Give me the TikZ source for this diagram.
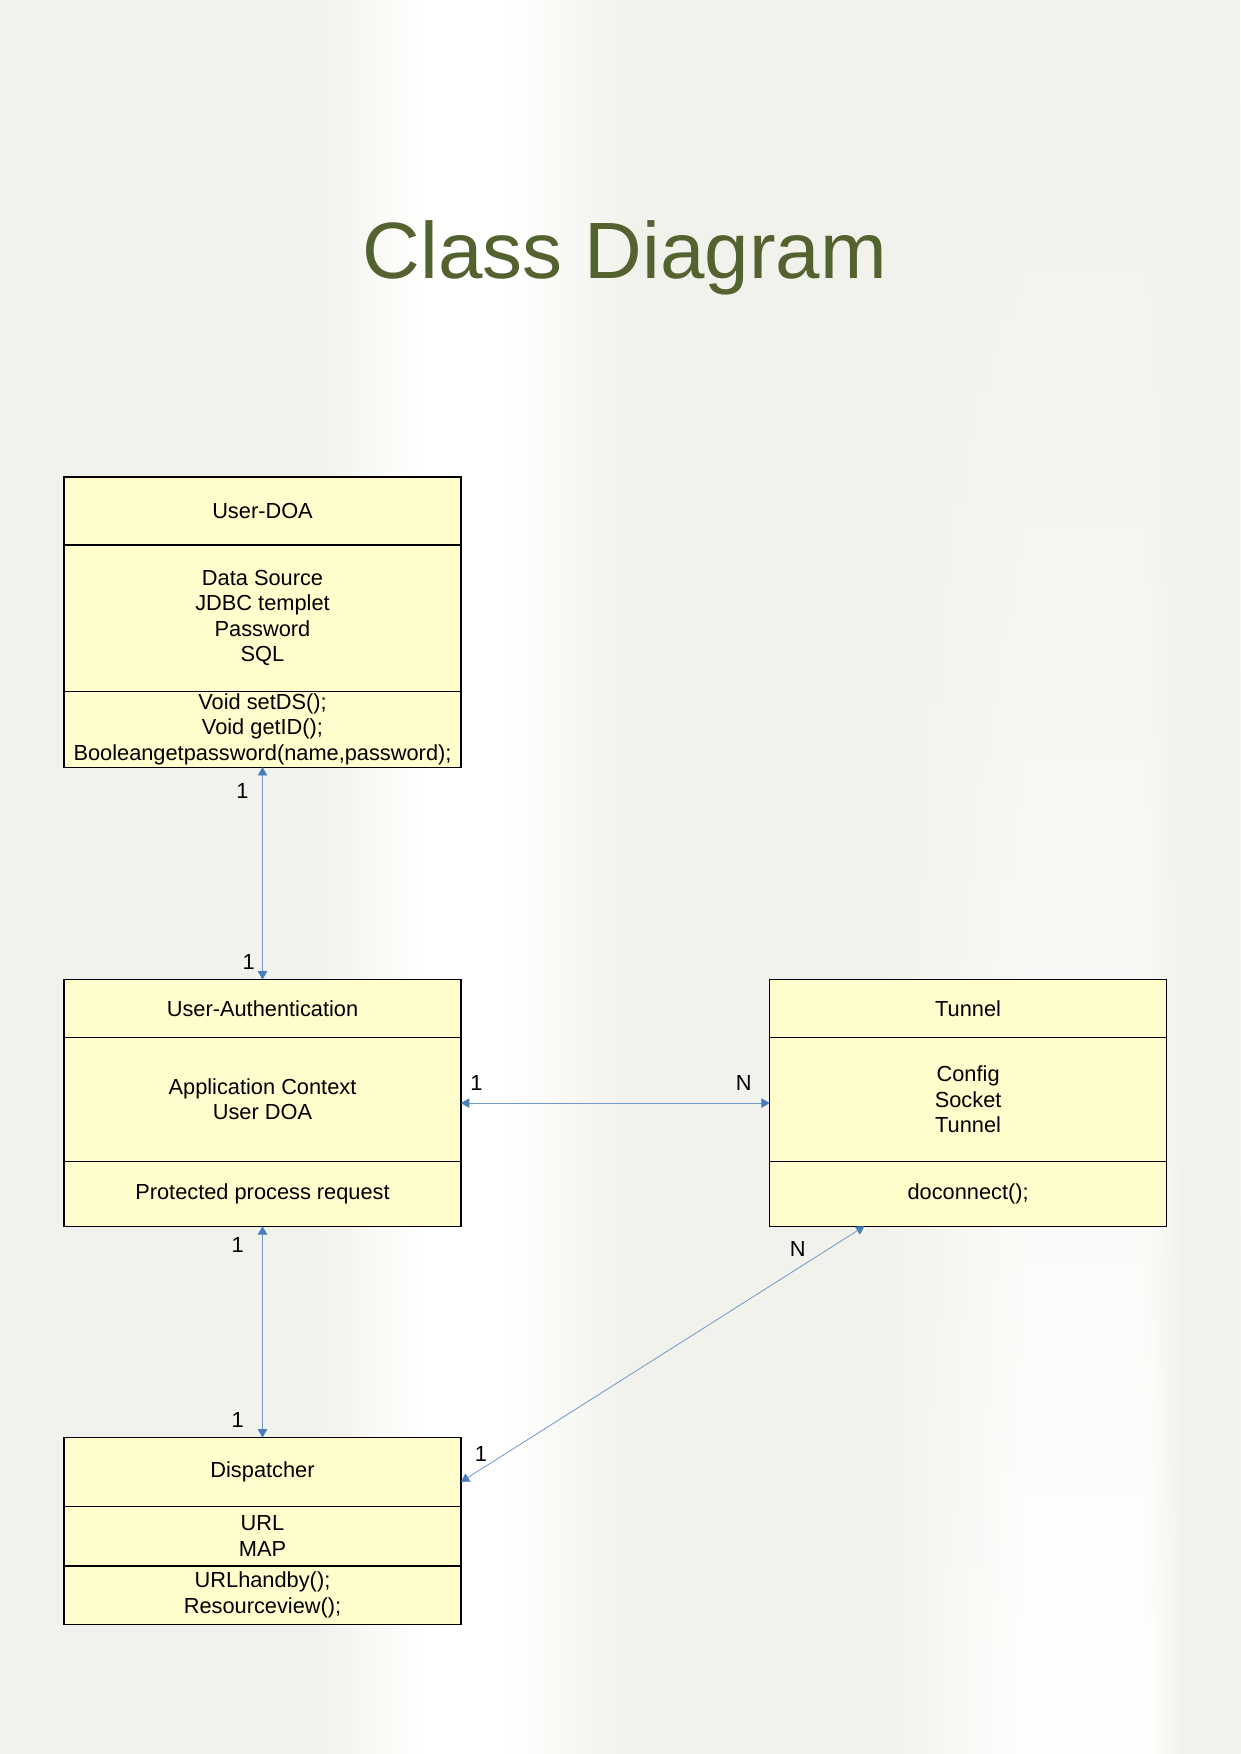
\documentclass[tikz,border=0pt]{standalone}
\usepackage{fontspec}
\setmainfont{Liberation Sans}
\usepackage{tikz}
\usetikzlibrary{arrows.meta}
\usetikzlibrary{positioning}
\usetikzlibrary{fadings}

\definecolor{bggray}{HTML}{F1F2EB}
\definecolor{boxfill}{HTML}{FFFDCB}
\definecolor{linkblue}{HTML}{7399CB}
\definecolor{tipblue}{HTML}{4A7EBB}
\definecolor{titlegreen}{HTML}{546230}

\pgfdeclarehorizontalshading{pagebg}{100bp}{color(0bp)=(bggray); color(25bp)=(bggray); color(37.7bp)=(bggray);
  color(42.2bp)=(white); color(45.4bp)=(white); color(50.5bp)=(bggray); color(100bp)=(bggray)}
\pgfdeclarehorizontalshading{rightbg}{100bp}{color(0bp)=(bggray); color(25bp)=(bggray);
  color(46.3bp)=(white); color(62.4bp)=(white); color(67.7bp)=(bggray); color(100bp)=(bggray)}
\tikzfading[name=fade up, top color=transparent!100, bottom color=transparent!0]

\tikzset{
  classpart/.style={draw=black, line width=0.6pt, fill=boxfill, minimum width=6.72cm,
    inner sep=0pt, outer sep=0pt, align=center, font=\fontsize{10.5}{12.3}\selectfont},
  link/.style={linkblue, line width=0.4pt,
    {Triangle[width=4.5pt,length=4pt,color=tipblue]}-{Triangle[width=4.5pt,length=4pt,color=tipblue]}},
  mult/.style={text=black, font=\fontsize{10.5}{12.3}\selectfont, inner sep=1pt}
}

\begin{document}
\begin{tikzpicture}
    \useasboundingbox (0cm,0cm) rectangle (21cm,-29.7cm);
    \shade[shading=pagebg] (0cm,0cm) rectangle (21cm,-29.7cm);  %Hintergrund
    \shade[shading=rightbg, path fading=fade up] (14.73cm,0cm) rectangle (21cm,-29.7cm);  %heller Streifen rechts unten

    \node[text=titlegreen, font=\fontsize{38.5}{44}\selectfont, anchor=base] (title) at (10.58cm,-4.72cm) {Class Diagram};

    % User-DOA
    \node[classpart, minimum height=1.152cm, anchor=north] (doaName) at (4.445cm,-8.078cm) {User-DOA};
    \node[classpart, minimum height=2.473cm, below=0pt of doaName] (doaAttr) {Data Source\\JDBC templet\\Password\\SQL};
    \node[classpart, minimum height=1.287cm, below=0pt of doaAttr] (doaOps) {Void setDS();\\Void getID();\\Booleangetpassword(name,password);};

    % User-Authentication
    \node[classpart, minimum height=0.977cm, anchor=north] (authName) at (4.445cm,-16.585cm) {User-Authentication};
    \node[classpart, minimum height=2.105cm, below=0pt of authName] (authAttr) {Application Context\\User DOA};
    \node[classpart, minimum height=1.096cm, below=0pt of authAttr] (authOps) {Protected process request};

    % Tunnel
    \node[classpart, minimum height=0.977cm, anchor=north] (tunName) at (16.393cm,-16.585cm) {Tunnel};
    \node[classpart, minimum height=2.105cm, below=0pt of tunName] (tunAttr) {Config\\Socket\\Tunnel};
    \node[classpart, minimum height=1.096cm, below=0pt of tunAttr] (tunOps) {doconnect();};

    % Dispatcher
    \node[classpart, minimum height=1.163cm, anchor=north] (dispName) at (4.445cm,-24.341cm) {Dispatcher};
    \node[classpart, minimum height=1.011cm, below=0pt of dispName] (dispAttr) {URL\\MAP};
    \node[classpart, minimum height=0.987cm, below=0pt of dispAttr] (dispOps) {URLhandby();\\Resourceview();};

    \coordinate (authPort) at ([yshift=-0.064cm]authAttr.east);
    \coordinate (tunPortW) at ([yshift=-0.064cm]tunAttr.west);
    \coordinate (tunPortS) at ([xshift=1.604cm]tunOps.south west);
    \coordinate (dispPort) at ([yshift=-0.17cm]dispName.east);

    \draw[link] (doaOps.south) -- (authName.north)
      node[mult, pos=0.11, left=5.5pt] (mDoa) {1}
      node[mult, pos=0.92, left=2.6pt] (mAuthTop) {1};
    \draw[link] (authPort) -- (tunPortW)
      node[mult, pos=0.05, above=4.7pt] (mAuthRight) {1}
      node[mult, pos=0.916, above=4.7pt] (mTunLeft) {N};
    \draw[link] (authOps.south) -- (dispName.north)
      node[mult, pos=0.088, left=7.9pt] (mAuthBot) {1}
      node[mult, pos=0.915, left=7.9pt] (mDispTop) {1};
    \draw[link] (tunPortS) -- (dispPort)
      node[mult, pos=0.09, left=9.6pt] (mTunBot) {N}
      node[mult, pos=0.89, left=7.6pt] (mDispRight) {1};
\end{tikzpicture}
\end{document}
